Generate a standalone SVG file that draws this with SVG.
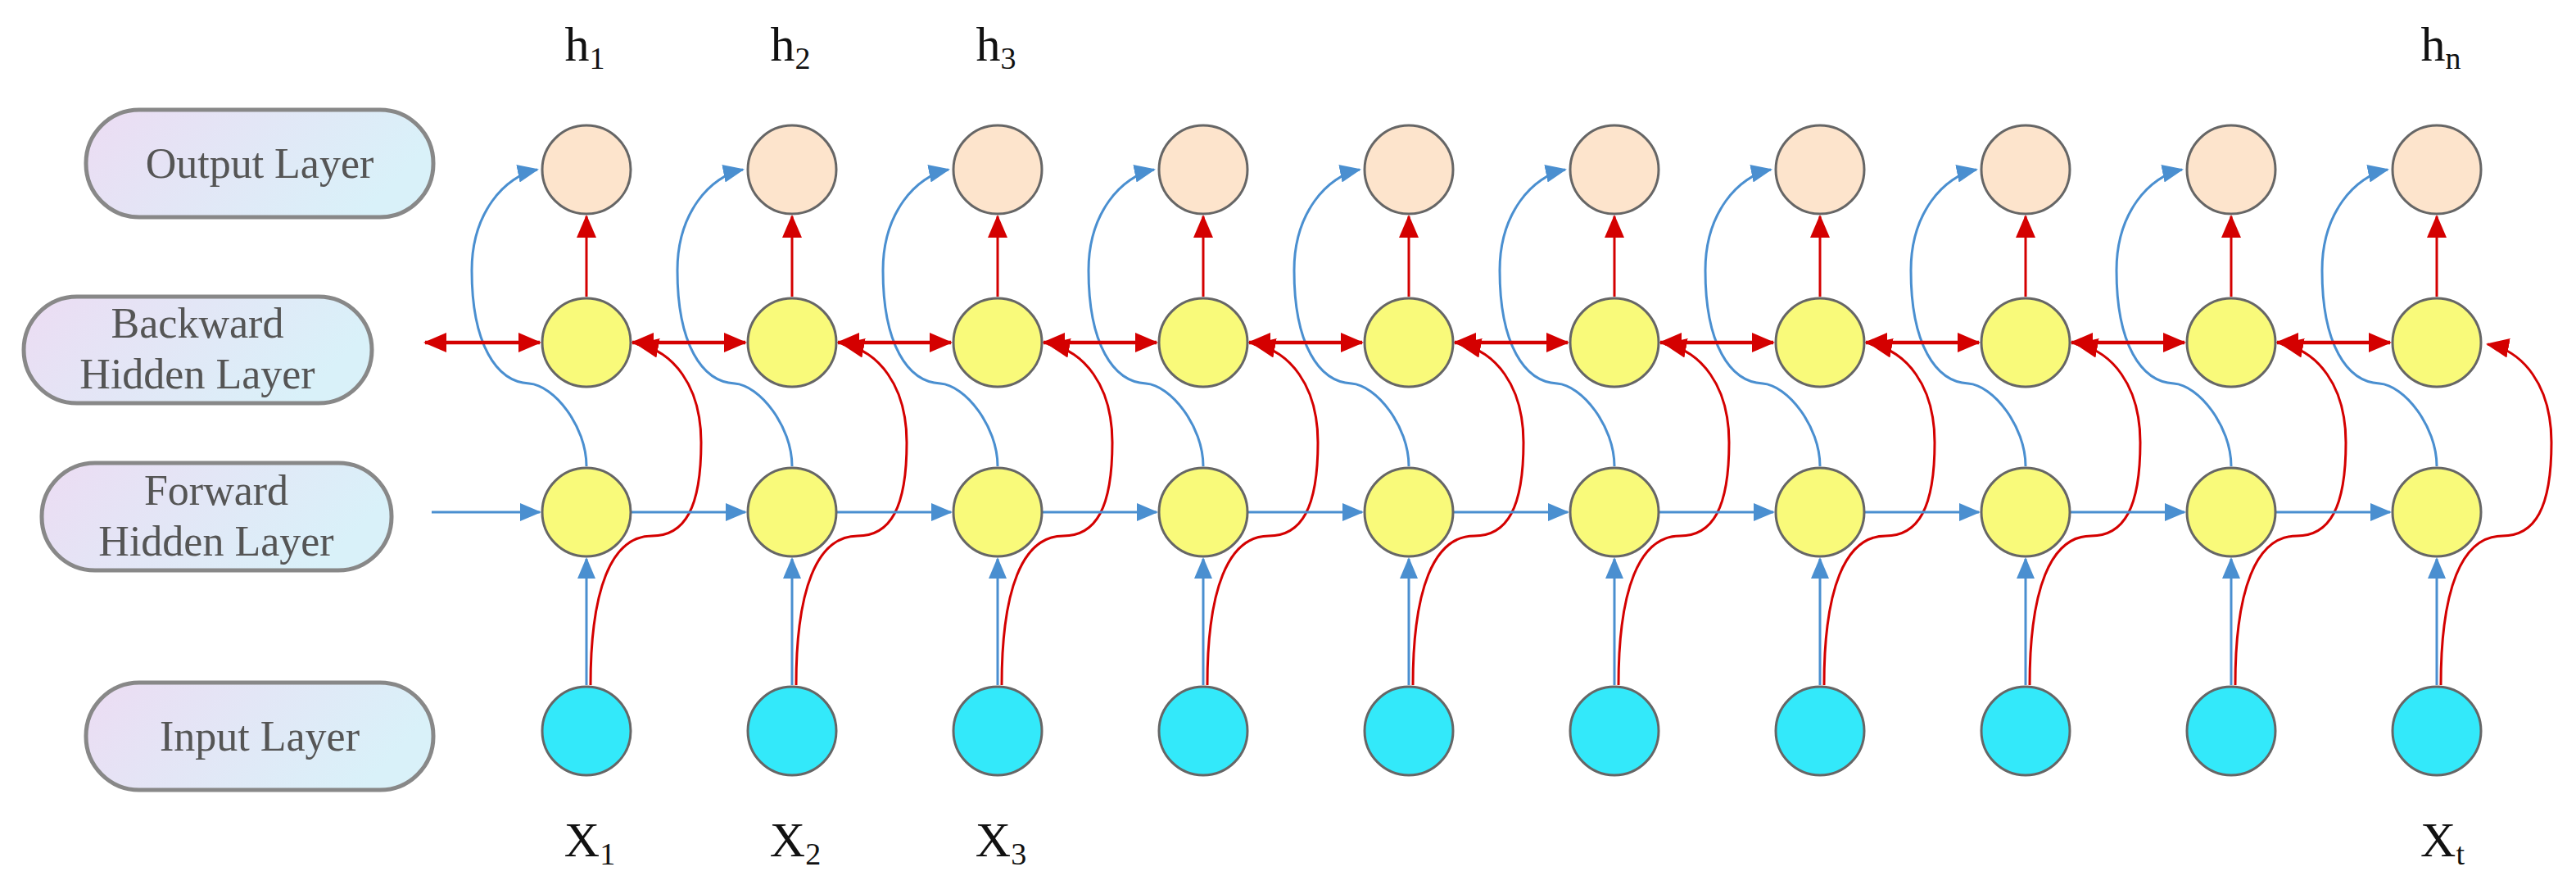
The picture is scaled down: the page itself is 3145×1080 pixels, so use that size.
<svg xmlns="http://www.w3.org/2000/svg" xmlns:xlink="http://www.w3.org/1999/xlink" width="3145" height="1080" viewBox="0 0 3145 1080">
<style>
.pill{stroke:#888;stroke-width:5;fill:url(#pg)}
.lt{font-family:"Liberation Serif",serif;font-size:52px;fill:#555;text-anchor:middle}
.hl{font-family:"Liberation Serif",serif;font-size:60px;fill:#111;text-anchor:middle}
.sub{font-size:38px}
.n{stroke:#666;stroke-width:3}
.o{fill:#fde4cc}.h{fill:#f9fa7a}.i{fill:#33e9fa}
.b{fill:none;stroke:#4a8fd0;stroke-width:3}
.r{fill:none;stroke:#d40000;stroke-width:3}
.rh{fill:none;stroke:#d40000;stroke-width:4.5}
.dot{fill:#555}
</style>
<defs>
<linearGradient id="pg" x1="0" y1="0" x2="1" y2="0.3"><stop offset="0" stop-color="#ecdcf3"/><stop offset="1" stop-color="#d9f1f9"/></linearGradient>
<marker id="ab" markerUnits="userSpaceOnUse" markerWidth="26" markerHeight="22" refX="24" refY="11" orient="auto-start-reverse"><path d="M0,0 L26,11 L0,22 Z" fill="#4a8fd0"/></marker>
<marker id="ar" markerUnits="userSpaceOnUse" markerWidth="28" markerHeight="24" refX="26" refY="12" orient="auto-start-reverse"><path d="M0,0 L28,12 L0,24 Z" fill="#d40000"/></marker>
<g id="col">
<path class="b" d="M0,836 L0,682" marker-end="url(#ab)"/>
<path class="r" d="M5,836 C5,720 30,654 80,654 C120,654 140,620 140,540 C140,470 105,428 62,420" marker-end="url(#ar)"/>
<path class="b" d="M0,569 C0,520 -40,470 -70,468 C-110,466 -140,420 -140,330 C-140,260 -100,215 -60,207" marker-end="url(#ab)"/>
<path class="r" d="M0,362 L0,264" marker-end="url(#ar)"/>
</g>
<g id="link">
<path class="b" d="M-197,625 L-57,625" marker-end="url(#ab)"/>
<path class="rh" d="M-195,418 L-57,418" marker-start="url(#ar)" marker-end="url(#ar)"/>
</g>
<pattern id="dots" x="1424" y="0" width="43.9" height="1080" patternUnits="userSpaceOnUse"><rect x="0" y="0" width="13" height="11" class="dot"/></pattern>
</defs>

<g id="labels">
<g id="lbl-output"><rect class="pill" x="105" y="134" width="424" height="131" rx="65"/><text class="lt" x="317" y="217">Output Layer</text></g>
<g id="lbl-backward"><rect class="pill" x="29" y="362" width="425" height="130" rx="65"/><text class="lt" x="241" y="412">Backward</text><text class="lt" x="241" y="474">Hidden Layer</text></g>
<g id="lbl-forward"><rect class="pill" x="51" y="565" width="427" height="131" rx="65"/><text class="lt" x="264" y="616">Forward</text><text class="lt" x="264" y="678">Hidden Layer</text></g>
<g id="lbl-input"><rect class="pill" x="105" y="833" width="424" height="131" rx="65"/><text class="lt" x="317" y="916">Input Layer</text></g>
</g>

<g id="connectors">
<use xlink:href="#col" x="716"/><use xlink:href="#col" x="967"/><use xlink:href="#col" x="1218"/><use xlink:href="#col" x="1469"/><use xlink:href="#col" x="1720"/><use xlink:href="#col" x="1971"/><use xlink:href="#col" x="2222"/><use xlink:href="#col" x="2473"/><use xlink:href="#col" x="2724"/><use xlink:href="#col" x="2975"/>
<path class="b" d="M527,625 L659,625" marker-end="url(#ab)"/>
<path class="rh" d="M519,418 L659,418" marker-start="url(#ar)" marker-end="url(#ar)"/>
<use xlink:href="#link" x="967"/><use xlink:href="#link" x="1218"/><use xlink:href="#link" x="1469"/><use xlink:href="#link" x="1720"/><use xlink:href="#link" x="1971"/><use xlink:href="#link" x="2222"/><use xlink:href="#link" x="2473"/><use xlink:href="#link" x="2724"/><use xlink:href="#link" x="2975"/>
</g>

<g id="nodes">
<g id="c1"><circle class="n o" cx="716" cy="207" r="54"/><circle class="n h" cx="716" cy="418" r="54"/><circle class="n h" cx="716" cy="625" r="54"/><circle class="n i" cx="716" cy="892" r="54"/></g>
<g id="c2"><circle class="n o" cx="967" cy="207" r="54"/><circle class="n h" cx="967" cy="418" r="54"/><circle class="n h" cx="967" cy="625" r="54"/><circle class="n i" cx="967" cy="892" r="54"/></g>
<g id="c3"><circle class="n o" cx="1218" cy="207" r="54"/><circle class="n h" cx="1218" cy="418" r="54"/><circle class="n h" cx="1218" cy="625" r="54"/><circle class="n i" cx="1218" cy="892" r="54"/></g>
<g id="c4"><circle class="n o" cx="1469" cy="207" r="54"/><circle class="n h" cx="1469" cy="418" r="54"/><circle class="n h" cx="1469" cy="625" r="54"/><circle class="n i" cx="1469" cy="892" r="54"/></g>
<g id="c5"><circle class="n o" cx="1720" cy="207" r="54"/><circle class="n h" cx="1720" cy="418" r="54"/><circle class="n h" cx="1720" cy="625" r="54"/><circle class="n i" cx="1720" cy="892" r="54"/></g>
<g id="c6"><circle class="n o" cx="1971" cy="207" r="54"/><circle class="n h" cx="1971" cy="418" r="54"/><circle class="n h" cx="1971" cy="625" r="54"/><circle class="n i" cx="1971" cy="892" r="54"/></g>
<g id="c7"><circle class="n o" cx="2222" cy="207" r="54"/><circle class="n h" cx="2222" cy="418" r="54"/><circle class="n h" cx="2222" cy="625" r="54"/><circle class="n i" cx="2222" cy="892" r="54"/></g>
<g id="c8"><circle class="n o" cx="2473" cy="207" r="54"/><circle class="n h" cx="2473" cy="418" r="54"/><circle class="n h" cx="2473" cy="625" r="54"/><circle class="n i" cx="2473" cy="892" r="54"/></g>
<g id="c9"><circle class="n o" cx="2724" cy="207" r="54"/><circle class="n h" cx="2724" cy="418" r="54"/><circle class="n h" cx="2724" cy="625" r="54"/><circle class="n i" cx="2724" cy="892" r="54"/></g>
<g id="c10"><circle class="n o" cx="2975" cy="207" r="54"/><circle class="n h" cx="2975" cy="418" r="54"/><circle class="n h" cx="2975" cy="625" r="54"/><circle class="n i" cx="2975" cy="892" r="54"/></g>
</g>

<g id="texts">
<text class="hl" x="714" y="74">h<tspan class="sub" dy="10">1</tspan></text>
<text class="hl" x="965" y="74">h<tspan class="sub" dy="10">2</tspan></text>
<text class="hl" x="1216" y="74">h<tspan class="sub" dy="10">3</tspan></text>
<text class="hl" x="2980" y="74">h<tspan class="sub" dy="10">n</tspan></text>
<text class="hl" x="720" y="1045">X<tspan class="sub" dy="10">1</tspan></text>
<text class="hl" x="971" y="1045">X<tspan class="sub" dy="10">2</tspan></text>
<text class="hl" x="1222" y="1045">X<tspan class="sub" dy="10">3</tspan></text>
<text class="hl" x="2982" y="1045">X<tspan class="sub" dy="10">t</tspan></text>
<rect x="1424" y="48" width="1370" height="11" fill="url(#dots)"/>
<rect x="1424" y="1017" width="1370" height="11" fill="url(#dots)"/>
</g>
</svg>
